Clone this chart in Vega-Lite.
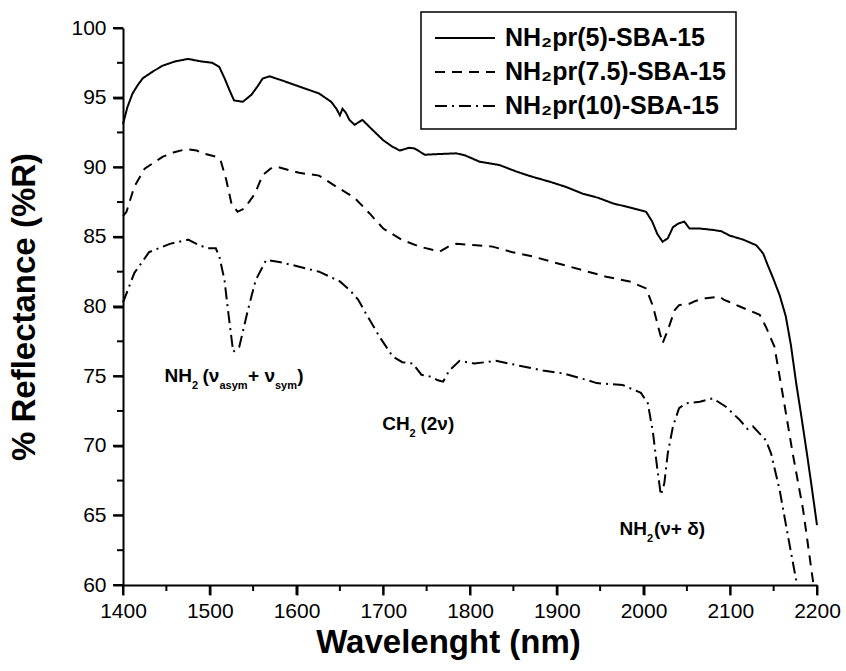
{
  "$schema": "https://vega.github.io/schema/vega-lite/v6.json",
  "autosize": {"type": "none"},
  "padding": {"left": 123, "top": 28, "right": 29, "bottom": 86},
  "width": 694,
  "height": 557,
  "background": "white",
  "config": {
    "view": {"stroke": null},
    "font": "Liberation Sans",
    "axis": {
      "domainColor": "black", "domainWidth": 2, "tickColor": "black", "tickWidth": 2,
      "labelFont": "Liberation Sans", "labelFontSize": 21, "labelColor": "black",
      "titleFont": "Liberation Sans", "titleFontSize": 33, "titleFontWeight": "bold", "titleColor": "black",
      "grid": false
    }
  },
  "resolve": {"axis": {"x": "independent", "y": "independent"}},
  "datasets": {
    "curves": [
      {"s":"NH₂pr(5)-SBA-15","w":1400,"r":93.1},{"s":"NH₂pr(5)-SBA-15","w":1405,"r":94.3},{"s":"NH₂pr(5)-SBA-15","w":1411,"r":95.3},{"s":"NH₂pr(5)-SBA-15","w":1417,"r":95.9},{"s":"NH₂pr(5)-SBA-15","w":1423,"r":96.4},{"s":"NH₂pr(5)-SBA-15","w":1435,"r":96.9},{"s":"NH₂pr(5)-SBA-15","w":1446,"r":97.3},{"s":"NH₂pr(5)-SBA-15","w":1460,"r":97.6},{"s":"NH₂pr(5)-SBA-15","w":1475,"r":97.78},{"s":"NH₂pr(5)-SBA-15","w":1490,"r":97.6},{"s":"NH₂pr(5)-SBA-15","w":1503,"r":97.5},{"s":"NH₂pr(5)-SBA-15","w":1511,"r":97.2},{"s":"NH₂pr(5)-SBA-15","w":1517,"r":96.4},{"s":"NH₂pr(5)-SBA-15","w":1523,"r":95.5},{"s":"NH₂pr(5)-SBA-15","w":1528,"r":94.8},{"s":"NH₂pr(5)-SBA-15","w":1538,"r":94.7},{"s":"NH₂pr(5)-SBA-15","w":1548,"r":95.2},{"s":"NH₂pr(5)-SBA-15","w":1555,"r":95.8},{"s":"NH₂pr(5)-SBA-15","w":1561,"r":96.37},{"s":"NH₂pr(5)-SBA-15","w":1569,"r":96.53},{"s":"NH₂pr(5)-SBA-15","w":1585,"r":96.2},{"s":"NH₂pr(5)-SBA-15","w":1603,"r":95.8},{"s":"NH₂pr(5)-SBA-15","w":1626,"r":95.3},{"s":"NH₂pr(5)-SBA-15","w":1640,"r":94.7},{"s":"NH₂pr(5)-SBA-15","w":1646,"r":94.2},{"s":"NH₂pr(5)-SBA-15","w":1650,"r":93.73},{"s":"NH₂pr(5)-SBA-15","w":1653,"r":94.2},{"s":"NH₂pr(5)-SBA-15","w":1657,"r":93.9},{"s":"NH₂pr(5)-SBA-15","w":1661,"r":93.4},{"s":"NH₂pr(5)-SBA-15","w":1667,"r":93.05},{"s":"NH₂pr(5)-SBA-15","w":1676,"r":93.4},{"s":"NH₂pr(5)-SBA-15","w":1688,"r":92.66},{"s":"NH₂pr(5)-SBA-15","w":1700,"r":91.94},{"s":"NH₂pr(5)-SBA-15","w":1710,"r":91.5},{"s":"NH₂pr(5)-SBA-15","w":1719,"r":91.2},{"s":"NH₂pr(5)-SBA-15","w":1730,"r":91.4},{"s":"NH₂pr(5)-SBA-15","w":1736,"r":91.35},{"s":"NH₂pr(5)-SBA-15","w":1748,"r":90.9},{"s":"NH₂pr(5)-SBA-15","w":1765,"r":90.95},{"s":"NH₂pr(5)-SBA-15","w":1784,"r":91.0},{"s":"NH₂pr(5)-SBA-15","w":1794,"r":90.86},{"s":"NH₂pr(5)-SBA-15","w":1811,"r":90.4},{"s":"NH₂pr(5)-SBA-15","w":1834,"r":90.16},{"s":"NH₂pr(5)-SBA-15","w":1853,"r":89.7},{"s":"NH₂pr(5)-SBA-15","w":1870,"r":89.35},{"s":"NH₂pr(5)-SBA-15","w":1892,"r":88.96},{"s":"NH₂pr(5)-SBA-15","w":1910,"r":88.6},{"s":"NH₂pr(5)-SBA-15","w":1930,"r":88.1},{"s":"NH₂pr(5)-SBA-15","w":1948,"r":87.8},{"s":"NH₂pr(5)-SBA-15","w":1965,"r":87.4},{"s":"NH₂pr(5)-SBA-15","w":1985,"r":87.1},{"s":"NH₂pr(5)-SBA-15","w":2003,"r":86.8},{"s":"NH₂pr(5)-SBA-15","w":2010,"r":86.1},{"s":"NH₂pr(5)-SBA-15","w":2016,"r":85.2},{"s":"NH₂pr(5)-SBA-15","w":2022,"r":84.65},{"s":"NH₂pr(5)-SBA-15","w":2028,"r":84.9},{"s":"NH₂pr(5)-SBA-15","w":2034,"r":85.7},{"s":"NH₂pr(5)-SBA-15","w":2040,"r":85.95},{"s":"NH₂pr(5)-SBA-15","w":2047,"r":86.1},{"s":"NH₂pr(5)-SBA-15","w":2053,"r":85.6},{"s":"NH₂pr(5)-SBA-15","w":2065,"r":85.6},{"s":"NH₂pr(5)-SBA-15","w":2080,"r":85.5},{"s":"NH₂pr(5)-SBA-15","w":2090,"r":85.4},{"s":"NH₂pr(5)-SBA-15","w":2099,"r":85.1},{"s":"NH₂pr(5)-SBA-15","w":2115,"r":84.8},{"s":"NH₂pr(5)-SBA-15","w":2130,"r":84.4},{"s":"NH₂pr(5)-SBA-15","w":2138,"r":83.8},{"s":"NH₂pr(5)-SBA-15","w":2143,"r":83.0},{"s":"NH₂pr(5)-SBA-15","w":2149,"r":82.1},{"s":"NH₂pr(5)-SBA-15","w":2157,"r":80.8},{"s":"NH₂pr(5)-SBA-15","w":2164,"r":79.3},{"s":"NH₂pr(5)-SBA-15","w":2170,"r":77.2},{"s":"NH₂pr(5)-SBA-15","w":2176,"r":74.5},{"s":"NH₂pr(5)-SBA-15","w":2182,"r":72.1},{"s":"NH₂pr(5)-SBA-15","w":2188,"r":69.6},{"s":"NH₂pr(5)-SBA-15","w":2194,"r":67.0},{"s":"NH₂pr(5)-SBA-15","w":2200,"r":64.3},
      {"s":"NH₂pr(7.5)-SBA-15","w":1400,"r":86.5},{"s":"NH₂pr(7.5)-SBA-15","w":1404,"r":86.8},{"s":"NH₂pr(7.5)-SBA-15","w":1413,"r":88.6},{"s":"NH₂pr(7.5)-SBA-15","w":1425,"r":89.9},{"s":"NH₂pr(7.5)-SBA-15","w":1446,"r":90.76},{"s":"NH₂pr(7.5)-SBA-15","w":1460,"r":91.1},{"s":"NH₂pr(7.5)-SBA-15","w":1473,"r":91.3},{"s":"NH₂pr(7.5)-SBA-15","w":1485,"r":91.2},{"s":"NH₂pr(7.5)-SBA-15","w":1492,"r":91.0},{"s":"NH₂pr(7.5)-SBA-15","w":1507,"r":90.76},{"s":"NH₂pr(7.5)-SBA-15","w":1513,"r":90.4},{"s":"NH₂pr(7.5)-SBA-15","w":1519,"r":89.1},{"s":"NH₂pr(7.5)-SBA-15","w":1525,"r":87.4},{"s":"NH₂pr(7.5)-SBA-15","w":1532,"r":86.8},{"s":"NH₂pr(7.5)-SBA-15","w":1540,"r":87.05},{"s":"NH₂pr(7.5)-SBA-15","w":1552,"r":88.1},{"s":"NH₂pr(7.5)-SBA-15","w":1561,"r":89.44},{"s":"NH₂pr(7.5)-SBA-15","w":1570,"r":89.9},{"s":"NH₂pr(7.5)-SBA-15","w":1577,"r":90.04},{"s":"NH₂pr(7.5)-SBA-15","w":1603,"r":89.6},{"s":"NH₂pr(7.5)-SBA-15","w":1626,"r":89.4},{"s":"NH₂pr(7.5)-SBA-15","w":1636,"r":89.0},{"s":"NH₂pr(7.5)-SBA-15","w":1646,"r":88.6},{"s":"NH₂pr(7.5)-SBA-15","w":1667,"r":87.8},{"s":"NH₂pr(7.5)-SBA-15","w":1684,"r":86.7},{"s":"NH₂pr(7.5)-SBA-15","w":1700,"r":85.6},{"s":"NH₂pr(7.5)-SBA-15","w":1721,"r":84.8},{"s":"NH₂pr(7.5)-SBA-15","w":1742,"r":84.3},{"s":"NH₂pr(7.5)-SBA-15","w":1765,"r":83.94},{"s":"NH₂pr(7.5)-SBA-15","w":1775,"r":84.3},{"s":"NH₂pr(7.5)-SBA-15","w":1784,"r":84.5},{"s":"NH₂pr(7.5)-SBA-15","w":1807,"r":84.4},{"s":"NH₂pr(7.5)-SBA-15","w":1826,"r":84.3},{"s":"NH₂pr(7.5)-SBA-15","w":1849,"r":83.9},{"s":"NH₂pr(7.5)-SBA-15","w":1872,"r":83.6},{"s":"NH₂pr(7.5)-SBA-15","w":1895,"r":83.2},{"s":"NH₂pr(7.5)-SBA-15","w":1915,"r":82.86},{"s":"NH₂pr(7.5)-SBA-15","w":1936,"r":82.5},{"s":"NH₂pr(7.5)-SBA-15","w":1957,"r":82.14},{"s":"NH₂pr(7.5)-SBA-15","w":1984,"r":81.8},{"s":"NH₂pr(7.5)-SBA-15","w":2003,"r":81.3},{"s":"NH₂pr(7.5)-SBA-15","w":2011,"r":80.0},{"s":"NH₂pr(7.5)-SBA-15","w":2018,"r":78.3},{"s":"NH₂pr(7.5)-SBA-15","w":2022,"r":77.35},{"s":"NH₂pr(7.5)-SBA-15","w":2028,"r":78.3},{"s":"NH₂pr(7.5)-SBA-15","w":2036,"r":79.75},{"s":"NH₂pr(7.5)-SBA-15","w":2041,"r":80.1},{"s":"NH₂pr(7.5)-SBA-15","w":2053,"r":80.2},{"s":"NH₂pr(7.5)-SBA-15","w":2060,"r":80.4},{"s":"NH₂pr(7.5)-SBA-15","w":2072,"r":80.6},{"s":"NH₂pr(7.5)-SBA-15","w":2088,"r":80.7},{"s":"NH₂pr(7.5)-SBA-15","w":2093,"r":80.47},{"s":"NH₂pr(7.5)-SBA-15","w":2100,"r":80.3},{"s":"NH₂pr(7.5)-SBA-15","w":2111,"r":80.0},{"s":"NH₂pr(7.5)-SBA-15","w":2134,"r":79.4},{"s":"NH₂pr(7.5)-SBA-15","w":2141,"r":78.55},{"s":"NH₂pr(7.5)-SBA-15","w":2151,"r":77.1},{"s":"NH₂pr(7.5)-SBA-15","w":2156,"r":75.3},{"s":"NH₂pr(7.5)-SBA-15","w":2161,"r":73.5},{"s":"NH₂pr(7.5)-SBA-15","w":2172,"r":69.45},{"s":"NH₂pr(7.5)-SBA-15","w":2184,"r":65.4},{"s":"NH₂pr(7.5)-SBA-15","w":2196,"r":60.0},
      {"s":"NH₂pr(10)-SBA-15","w":1400,"r":80.3},{"s":"NH₂pr(10)-SBA-15","w":1402,"r":80.6},{"s":"NH₂pr(10)-SBA-15","w":1413,"r":82.4},{"s":"NH₂pr(10)-SBA-15","w":1430,"r":83.9},{"s":"NH₂pr(10)-SBA-15","w":1454,"r":84.5},{"s":"NH₂pr(10)-SBA-15","w":1475,"r":84.8},{"s":"NH₂pr(10)-SBA-15","w":1488,"r":84.4},{"s":"NH₂pr(10)-SBA-15","w":1498,"r":84.18},{"s":"NH₂pr(10)-SBA-15","w":1507,"r":84.18},{"s":"NH₂pr(10)-SBA-15","w":1511,"r":83.6},{"s":"NH₂pr(10)-SBA-15","w":1517,"r":81.9},{"s":"NH₂pr(10)-SBA-15","w":1521,"r":79.75},{"s":"NH₂pr(10)-SBA-15","w":1527,"r":76.75},{"s":"NH₂pr(10)-SBA-15","w":1534,"r":77.1},{"s":"NH₂pr(10)-SBA-15","w":1544,"r":79.75},{"s":"NH₂pr(10)-SBA-15","w":1553,"r":81.9},{"s":"NH₂pr(10)-SBA-15","w":1565,"r":83.34},{"s":"NH₂pr(10)-SBA-15","w":1580,"r":83.2},{"s":"NH₂pr(10)-SBA-15","w":1603,"r":82.86},{"s":"NH₂pr(10)-SBA-15","w":1626,"r":82.5},{"s":"NH₂pr(10)-SBA-15","w":1650,"r":81.8},{"s":"NH₂pr(10)-SBA-15","w":1661,"r":81.2},{"s":"NH₂pr(10)-SBA-15","w":1671,"r":80.5},{"s":"NH₂pr(10)-SBA-15","w":1680,"r":79.5},{"s":"NH₂pr(10)-SBA-15","w":1696,"r":77.8},{"s":"NH₂pr(10)-SBA-15","w":1711,"r":76.4},{"s":"NH₂pr(10)-SBA-15","w":1722,"r":76.0},{"s":"NH₂pr(10)-SBA-15","w":1734,"r":75.9},{"s":"NH₂pr(10)-SBA-15","w":1744,"r":75.1},{"s":"NH₂pr(10)-SBA-15","w":1755,"r":74.96},{"s":"NH₂pr(10)-SBA-15","w":1763,"r":74.7},{"s":"NH₂pr(10)-SBA-15","w":1769,"r":74.6},{"s":"NH₂pr(10)-SBA-15","w":1776,"r":75.4},{"s":"NH₂pr(10)-SBA-15","w":1788,"r":76.1},{"s":"NH₂pr(10)-SBA-15","w":1805,"r":75.9},{"s":"NH₂pr(10)-SBA-15","w":1830,"r":76.1},{"s":"NH₂pr(10)-SBA-15","w":1857,"r":75.75},{"s":"NH₂pr(10)-SBA-15","w":1884,"r":75.4},{"s":"NH₂pr(10)-SBA-15","w":1907,"r":75.2},{"s":"NH₂pr(10)-SBA-15","w":1936,"r":74.7},{"s":"NH₂pr(10)-SBA-15","w":1946,"r":74.5},{"s":"NH₂pr(10)-SBA-15","w":1976,"r":74.36},{"s":"NH₂pr(10)-SBA-15","w":1997,"r":73.8},{"s":"NH₂pr(10)-SBA-15","w":2005,"r":73.05},{"s":"NH₂pr(10)-SBA-15","w":2011,"r":70.9},{"s":"NH₂pr(10)-SBA-15","w":2016,"r":68.3},{"s":"NH₂pr(10)-SBA-15","w":2020,"r":66.46},{"s":"NH₂pr(10)-SBA-15","w":2024,"r":67.3},{"s":"NH₂pr(10)-SBA-15","w":2028,"r":69.46},{"s":"NH₂pr(10)-SBA-15","w":2034,"r":71.4},{"s":"NH₂pr(10)-SBA-15","w":2041,"r":72.7},{"s":"NH₂pr(10)-SBA-15","w":2049,"r":73.05},{"s":"NH₂pr(10)-SBA-15","w":2065,"r":73.16},{"s":"NH₂pr(10)-SBA-15","w":2080,"r":73.4},{"s":"NH₂pr(10)-SBA-15","w":2095,"r":72.8},{"s":"NH₂pr(10)-SBA-15","w":2111,"r":71.85},{"s":"NH₂pr(10)-SBA-15","w":2120,"r":71.2},{"s":"NH₂pr(10)-SBA-15","w":2126,"r":71.4},{"s":"NH₂pr(10)-SBA-15","w":2141,"r":70.4},{"s":"NH₂pr(10)-SBA-15","w":2147,"r":69.46},{"s":"NH₂pr(10)-SBA-15","w":2157,"r":66.8},{"s":"NH₂pr(10)-SBA-15","w":2166,"r":63.7},{"s":"NH₂pr(10)-SBA-15","w":2177,"r":60.0}
    ],
    "labels": [
      {"t":"NH","w":1447.8,"r":74.59},{"t":"(ν","w":1491.6,"r":74.59},{"t":"+ ν","w":1544.2,"r":74.59},{"t":")","w":1601,"r":74.59},
      {"t":"CH","w":1698.8,"r":71.12},{"t":"(2ν)","w":1742.9,"r":71.12},
      {"t":"NH","w":1972.3,"r":63.58},{"t":"(ν+ δ)","w":2012,"r":63.58}
    ],
    "subs": [
      {"t":"2","w":1479.5,"r":74.04},{"t":"asym","w":1511.2,"r":74.04},{"t":"sym","w":1575.2,"r":74.04},
      {"t":"2","w":1730.3,"r":70.62},
      {"t":"2","w":2004,"r":63.08}
    ],
    "xMajor": [{"v":1400},{"v":1500},{"v":1600},{"v":1700},{"v":1800},{"v":1900},{"v":2000},{"v":2100},{"v":2200}],
    "xMinor": [{"v":1450},{"v":1550},{"v":1650},{"v":1750},{"v":1850},{"v":1950},{"v":2050},{"v":2150}],
    "yMajor": [{"v":60},{"v":65},{"v":70},{"v":75},{"v":80},{"v":85},{"v":90},{"v":95},{"v":100}],
    "yMinor": [{"v":62.5},{"v":67.5},{"v":72.5},{"v":77.5},{"v":82.5},{"v":87.5},{"v":92.5},{"v":97.5}]
  },
  "layer": [
    {
      "data": {"name": "curves"},
      "mark": {"type": "line", "strokeWidth": 2, "color": "black"},
      "encoding": {
        "x": {"field": "w", "type": "quantitative",
          "scale": {"domain": [1400, 2200], "nice": false, "zero": false},
          "axis": {"title": "Wavelenght (nm)", "orient": "bottom", "ticks": true,
            "values": [1400,1500,1600,1700,1800,1900,2000,2100,2200],
            "format": "d", "tickSize": 10,
            "labelPadding": 5, "titlePadding": 5, "labelFlush": false, "titleX": 325}},
        "y": {"field": "r", "type": "quantitative",
          "scale": {"domain": [60, 100], "nice": false, "zero": false},
          "axis": {"title": "% Reflectance (%R)", "orient": "left", "ticks": true,
            "values": [60,65,70,75,80,85,90,95,100],
            "format": "d", "tickSize": 10,
            "labelPadding": 7, "titlePadding": 29, "labelFlush": false}},
        "strokeDash": {"field": "s", "type": "nominal",
          "scale": {"domain": ["NH₂pr(5)-SBA-15", "NH₂pr(7.5)-SBA-15", "NH₂pr(10)-SBA-15"],
                    "range": [[1, 0], [10, 7], [12, 5, 2, 5]]},
          "legend": {"title": null, "orient": "none", "legendX": 298, "legendY": -16,
            "symbolType": "M-0.8,0H3.2", "symbolSize": 900, "symbolStrokeWidth": 2, "symbolStrokeColor": "black",
            "labelFont": "Liberation Sans", "labelFontSize": 25, "labelFontWeight": "bold", "labelColor": "black",
            "labelLimit": 400, "labelOffset": 42, "strokeColor": "black",
            "padding": 10, "rowPadding": 5, "fillColor": "white",
            "encode": {"legend": {"update": {"strokeWidth": {"value": 1.5}}}}}}
      }
    },
    {
      "data": {"name": "xMajor"},
      "mark": {"type": "tick", "orient": "vertical", "size": 10, "thickness": 2, "color": "black", "opacity": 1, "yOffset": 5},
      "encoding": {
        "x": {"field": "v", "type": "quantitative", "axis": null},
        "y": {"datum": 60, "type": "quantitative", "axis": null}
      }
    },
    {
      "data": {"name": "xMinor"},
      "mark": {"type": "tick", "orient": "vertical", "size": 6, "thickness": 2, "color": "black", "opacity": 1, "yOffset": 3},
      "encoding": {
        "x": {"field": "v", "type": "quantitative", "axis": null},
        "y": {"datum": 60, "type": "quantitative", "axis": null}
      }
    },
    {
      "data": {"name": "yMajor"},
      "mark": {"type": "tick", "orient": "horizontal", "size": 10, "thickness": 2, "color": "black", "opacity": 1, "xOffset": -5},
      "encoding": {
        "y": {"field": "v", "type": "quantitative", "axis": null},
        "x": {"datum": 1400, "type": "quantitative", "axis": null}
      }
    },
    {
      "data": {"name": "yMinor"},
      "mark": {"type": "tick", "orient": "horizontal", "size": 6, "thickness": 2, "color": "black", "opacity": 1, "xOffset": -3},
      "encoding": {
        "y": {"field": "v", "type": "quantitative", "axis": null},
        "x": {"datum": 1400, "type": "quantitative", "axis": null}
      }
    },
    {
      "data": {"name": "labels"},
      "mark": {"type": "text", "font": "Liberation Sans", "fontWeight": "bold", "fontSize": 19, "align": "left", "baseline": "alphabetic", "color": "black"},
      "encoding": {
        "x": {"field": "w", "type": "quantitative", "axis": null},
        "y": {"field": "r", "type": "quantitative", "axis": null},
        "text": {"field": "t"}
      }
    },
    {
      "data": {"name": "subs"},
      "mark": {"type": "text", "font": "Liberation Sans", "fontWeight": "bold", "fontSize": 11, "align": "left", "baseline": "alphabetic", "color": "black"},
      "encoding": {
        "x": {"field": "w", "type": "quantitative", "axis": null},
        "y": {"field": "r", "type": "quantitative", "axis": null},
        "text": {"field": "t"}
      }
    }
  ]
}
